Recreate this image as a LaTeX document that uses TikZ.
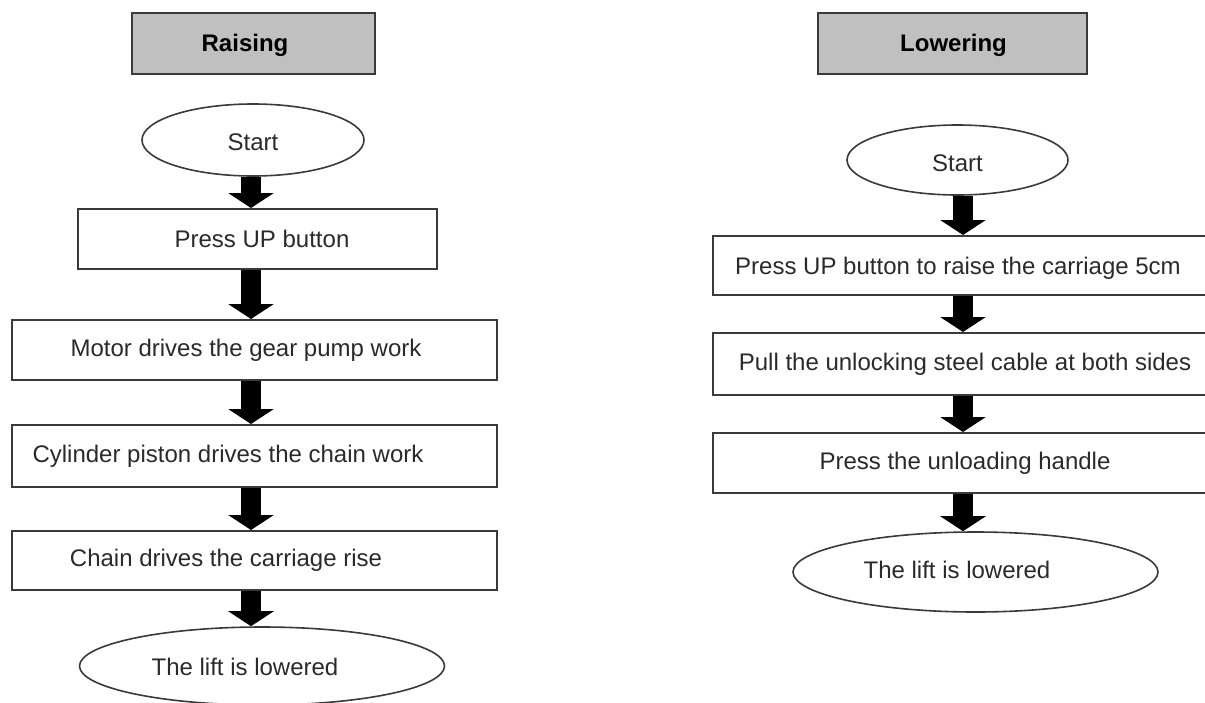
\documentclass[tikz,border=0pt]{standalone}
\usepackage{fontspec}
\setmainfont{Liberation Sans}
\usetikzlibrary{shapes.geometric,arrows.meta}
\definecolor{edge}{HTML}{3A3A3A}
\definecolor{ink}{HTML}{2A2A2A}
\definecolor{headfill}{HTML}{C0C0C0}
\tikzset{
  stepbox/.style={draw=edge, line width=1pt, fill=white, rectangle, inner sep=0pt},
  headbox/.style={draw=edge, line width=1.1pt, fill=headfill, rectangle, inner sep=0pt},
  termnode/.style={draw=edge, line width=0.8pt, fill=white, ellipse, inner sep=0pt},
  txt/.style={text=ink, font=\fontsize{12pt}{14pt}\selectfont, inner sep=0pt},
  headtxt/.style={text=black, font=\fontsize{12pt}{14pt}\selectfont\bfseries, inner sep=0pt},
  flow/.style={line width=10pt, black, -{Triangle[width=22.5pt,length=7.5pt]}}
}
\begin{document}
\begin{tikzpicture}[x=0.5pt,y=-0.5pt]
\useasboundingbox (0,0) rectangle (1205,702);
\clip (0,0) rectangle (1205,702);
\fill[white] (0,0) rectangle (1205,702);
% ---------- Raising ----------
\node[headbox, minimum width=121.5pt, minimum height=30.5pt] (hR) at (253.5,43.5) {};
\node[headtxt] (hRt) at (245,45) {Raising};
\node[termnode, minimum width=111pt, minimum height=36pt] (sL) at (253,140) {};
\node[txt] (sLt) at (253,142) {Start};
\node[stepbox, minimum width=179.5pt, minimum height=30pt] (b1) at (257.5,239) {};
\node[txt] (b1t) at (262,239) {Press UP button};
\node[stepbox, minimum width=242.5pt, minimum height=30pt] (b2) at (254.5,350) {};
\node[txt] (b2t) at (246,350) {Motor drives the gear pump work};
\node[stepbox, minimum width=242.5pt, minimum height=31pt] (b3) at (254.5,456) {};
\node[txt] (b3t) at (228,456) {Cylinder piston drives the chain work};
\node[stepbox, minimum width=242.5pt, minimum height=29.5pt] (b4) at (254.5,560.5) {};
\node[txt] (b4t) at (226,560) {Chain drives the carriage rise};
\node[termnode, minimum width=182.5pt, minimum height=39pt] (eL) at (262,666) {};
\node[txt] (eLt) at (245,667) {The lift is lowered};
\draw[flow] (sL.south -| 251,0) -- (251,0 |- b1.north);
\draw[flow] (b1.south -| 251,0) -- (251,0 |- b2.north);
\draw[flow] (b2.south -| 251,0) -- (251,0 |- b3.north);
\draw[flow] (b3.south -| 251,0) -- (251,0 |- b4.north);
\draw[flow] (b4.south -| 251,0) -- (251,0 |- eL.north);
% ---------- Lowering ----------
\node[headbox, minimum width=134.5pt, minimum height=30.5pt] (hL) at (952.5,43.5) {};
\node[headtxt] (hLt) at (953.5,45) {Lowering};
\node[termnode, minimum width=110.5pt, minimum height=35pt] (sR) at (957.5,160) {};
\node[txt] (sRt) at (957.5,163) {Start};
\node[stepbox, minimum width=251pt, minimum height=29.5pt] (c1) at (964,265.5) {};
\node[txt] (c1t) at (958,268) {Press UP button to raise the carriage 5cm};
\node[stepbox, minimum width=251pt, minimum height=31pt] (c2) at (964,364) {};
\node[txt] (c2t) at (965,364) {Pull the unlocking steel cable at both sides};
\node[stepbox, minimum width=251pt, minimum height=30pt] (c3) at (964,463) {};
\node[txt] (c3t) at (965,463) {Press the unloading handle};
\node[termnode, minimum width=182.5pt, minimum height=40pt] (eR) at (975.5,572) {};
\node[txt] (eRt) at (957,570) {The lift is lowered};
\draw[flow] (sR.south -| 963,0) -- (963,0 |- c1.north);
\draw[flow] (c1.south -| 963,0) -- (963,0 |- c2.north);
\draw[flow] (c2.south -| 963,0) -- (963,0 |- c3.north);
\draw[flow] (c3.south -| 963,0) -- (963,0 |- eR.north);
\end{tikzpicture}
\end{document}
